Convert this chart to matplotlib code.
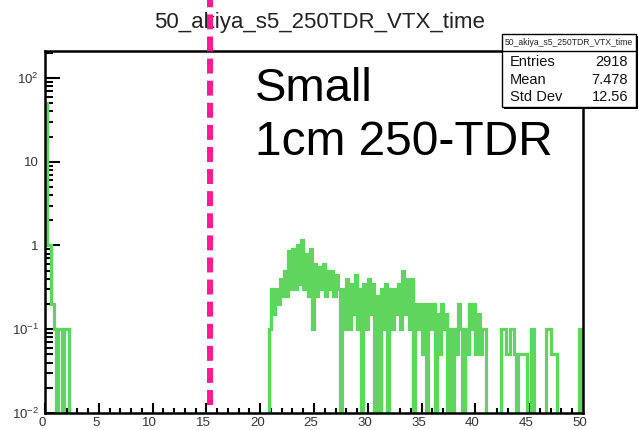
import numpy as np
import matplotlib
matplotlib.use("Agg")
import matplotlib.pyplot as plt
from matplotlib.lines import Line2D
from matplotlib.patches import Rectangle
from matplotlib.ticker import FixedLocator, FixedFormatter, MultipleLocator
from matplotlib.transforms import blended_transform_factory, ScaledTranslation

plt.rcParams["font.family"] = ["Liberation Sans", "DejaVu Sans"]
plt.rcParams["mathtext.fontset"] = "custom"
plt.rcParams["mathtext.rm"] = "Liberation Sans"
plt.rcParams["mathtext.it"] = "Liberation Sans"

hist_name = "50_akiya_s5_250TDR_VTX_time"
bin_width = 0.2
x_range = (0.0, 50.0)

# contents near t = 0 (bins starting at 0.0)
early_vals = [50.0, 1.0, 1.0, 0.2, 0.1, 0.0, 0.1, 0.1, 0.0, 0.1, 0.1]

# contents of the late tail, bins starting at t = 20.0 (5 bins per ns)
late_start = 20.0
late_vals = [
    0.0, 0.0, 0.0, 0.0, 0.1,      # 20
    0.3, 0.15, 0.3, 0.2, 0.4,     # 21
    0.25, 0.5, 0.25, 0.85, 0.3,   # 22
    0.9, 0.3, 1.0, 0.35, 1.15,    # 23
    0.3, 0.8, 0.25, 0.9, 0.1,     # 24
    0.6, 0.25, 0.55, 0.3, 0.6,    # 25
    0.25, 0.5, 0.3, 0.5, 0.25,    # 26
    0.45, 0.3, 0.0, 0.3, 0.1,     # 27
    0.4, 0.1, 0.35, 0.15, 0.45,   # 28
    0.1, 0.3, 0.0, 0.35, 0.1,     # 29
    0.4, 0.15, 0.35, 0.0, 0.25,   # 30
    0.0, 0.3, 0.1, 0.35, 0.0,     # 31
    0.3, 0.1, 0.3, 0.15, 0.35,    # 32
    0.1, 0.5, 0.15, 0.4, 0.1,     # 33
    0.4, 0.0, 0.2, 0.1, 0.2,      # 34
    0.05, 0.2, 0.0, 0.2, 0.1,     # 35
    0.2, 0.0, 0.15, 0.05, 0.2,    # 36
    0.1, 0.15, 0.0, 0.1, 0.0,     # 37
    0.1, 0.05, 0.2, 0.1, 0.0,     # 38
    0.1, 0.05, 0.2, 0.1, 0.2,     # 39
    0.05, 0.15, 0.05, 0.1, 0.1,   # 40
    0.0, 0.0, 0.0, 0.0, 0.0,      # 41
    0.0, 0.0, 0.1, 0.1, 0.05,     # 42
    0.05, 0.1, 0.1, 0.05, 0.0,    # 43
    0.05, 0.05, 0.05, 0.05, 0.0,  # 44
    0.0, 0.1, 0.0, 0.0, 0.0,      # 45
    0.0, 0.0, 0.0, 0.1, 0.1,      # 46
    0.05, 0.05, 0.05, 0.0, 0.0,   # 47
    0.0, 0.0, 0.0, 0.0, 0.0,      # 48
    0.0, 0.0, 0.0, 0.1, 0.0,      # 49
]

stats_labels = ["Entries", "Mean", "Std Dev"]
stats_values = ["2918", "7.478", "12.56"]

cut_time = 15.3
y_range = (1e-2, 210)
y_ticks = [1e-2, 1e-1, 1, 10, 1e2]
y_ticklabels = ["$10^{-2}$", "$10^{-1}$", "1", "10", "$10^{2}$"]

# build the histogram array
edges = np.arange(x_range[0], x_range[1] + bin_width / 2, bin_width)
contents = np.zeros(len(edges) - 1)
contents[: len(early_vals)] = early_vals
i0 = int(round((late_start - x_range[0]) / bin_width))
contents[i0 : i0 + len(late_vals)] = late_vals

# empty bins drop below the log axis, like ROOT does
draw_vals = np.where(contents > 0, contents, 1e-5)

fig = plt.figure(figsize=(6.39, 4.30), dpi=100)
ax = fig.add_axes([45 / 639, 17 / 430, 538 / 639, 362 / 430])

ax.stairs(draw_vals, edges, baseline=None, color="#5ed65e", lw=2.3,
          zorder=2)

ax.set_yscale("log")
ax.set_xlim(*x_range)
ax.set_ylim(*y_range)

ax.xaxis.set_major_locator(MultipleLocator(5))
ax.xaxis.set_minor_locator(MultipleLocator(1))
ax.yaxis.set_major_locator(FixedLocator(y_ticks))
ax.yaxis.set_major_formatter(FixedFormatter(y_ticklabels))
minor = [m * 10.0 ** e for e in range(-2, 3) for m in range(2, 10)]
ax.yaxis.set_minor_locator(FixedLocator(minor))

ax.tick_params(axis="both", which="both", direction="in", top=False,
               right=False, width=1.5, colors="black", labelcolor="#333333",
               labelsize=9.5)
ax.tick_params(axis="x", which="major", length=7.5, pad=3)
ax.tick_params(axis="x", which="minor", length=3.8)
ax.tick_params(axis="y", which="major", length=11, pad=4.5)
ax.tick_params(axis="y", which="minor", length=6)
for sp in ax.spines.values():
    sp.set_linewidth(1.8)

shift = ScaledTranslation(-3 / 100, 0, fig.dpi_scale_trans)
for lab in ax.get_xticklabels():
    lab.set_transform(lab.get_transform() + shift)

# title
fig.text(0.5, 1 - 28 / 430, hist_name, ha="center", va="baseline",
         fontsize=16, color="#222222")

# big annotation
fig.text(255 / 639, 1 - 101 / 430, "Small", fontsize=34, va="baseline")
fig.text(255 / 639, 1 - 155 / 430, "1cm 250-TDR", fontsize=34.5,
         va="baseline")

# stats box with shadow
bx0, bx1 = 502 / 639, 636 / 639
by0, by1 = 1 - 107 / 430, 1 - 34 / 430
sx, sy = 2 / 639, 2 / 430
fig.add_artist(Rectangle((bx0 + sx, by0 - sy), bx1 - bx0, by1 - by0,
                         transform=fig.transFigure, facecolor="black",
                         edgecolor="none", zorder=6))
fig.add_artist(Rectangle((bx0, by0), bx1 - bx0, by1 - by0,
                         transform=fig.transFigure, facecolor="white",
                         edgecolor="black", lw=1.0, zorder=7))
hy = 1 - 51 / 430
fig.add_artist(Line2D([bx0, bx1], [hy, hy], transform=fig.transFigure,
                      color="black", lw=1.0, zorder=8))
fig.text((bx0 + bx1) / 2, (hy + by1) / 2, hist_name, ha="center",
         va="center", fontsize=6.2, color="#222222", zorder=9)
row_y = [1 - 62 / 430, 1 - 80 / 430, 1 - 97 / 430]
for lab, val, yy in zip(stats_labels, stats_values, row_y):
    fig.text(510 / 639, yy, lab, ha="left", va="center", fontsize=10.5,
             color="#111111", zorder=9)
    fig.text(628 / 639, yy, val, ha="right", va="center", fontsize=10.5,
             color="#111111", zorder=9)

# timing cut line, spans past the frame up to the top edge
cut_tr = blended_transform_factory(ax.transData, fig.transFigure)
fig.add_artist(Line2D([cut_time, cut_time], [1 - 405 / 430, 1.0],
                      transform=cut_tr, color="#ff1a90", lw=4.3,
                      linestyle=(0, (2.5, 1.2)), zorder=10))

fig.savefig("out.png", dpi=100)
